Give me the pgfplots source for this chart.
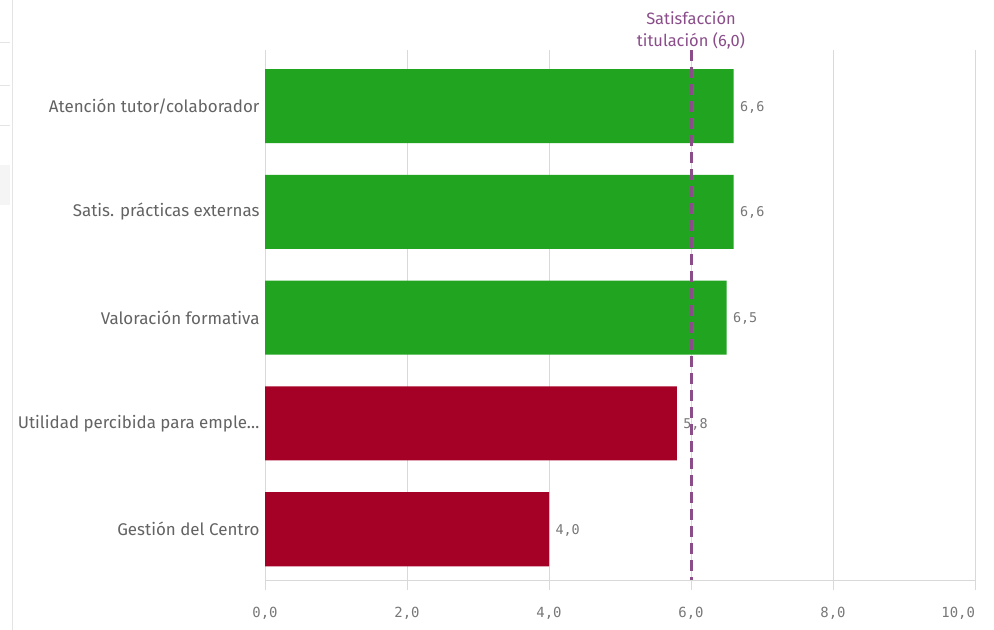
\documentclass[border=0pt]{standalone}
\usepackage{pgfplots}
\pgfplotsset{compat=1.18}
\usepackage{fontspec}
\setmainfont{Fira Sans}
\newfontfamily\monofont{DejaVu Sans Mono}
\definecolor{bargreen}{HTML}{21A521}
\definecolor{barred}{HTML}{A50026}
\definecolor{refpurple}{HTML}{8A4D8A}
\definecolor{gridgray}{HTML}{D9D9D9}
\definecolor{labgray}{HTML}{636363}
\definecolor{numgray}{HTML}{777777}
\begin{document}
\begin{tikzpicture}
\useasboundingbox (0,0) rectangle (994bp,630bp);
\fill[white] (0,0) rectangle (994bp,630bp);
\draw[gridgray!70, line width=1bp] (12bp,0) -- (12bp,630bp);
\fill[gray!8] (0,425bp) rectangle (10bp,465bp);
\foreach \yy in {588,545,505} {\draw[gridgray!70] (0,\yy bp) -- (10bp,\yy bp);}
\begin{axis}[
  at={(265bp,50bp)}, anchor=south west,
  scale only axis, width=710bp, height=530bp,
  xmin=0, xmax=10, ymin=-0.53, ymax=4.48,
  y dir=reverse,
  axis x line*=bottom, axis y line*=left,
  axis line style={gridgray, line width=1bp, -},
  xtick={0,2,4,6,8,10},
  xticklabel={\ifnum\ticknum=5\relax\makebox[0pt][r]{\monofont\pgfmathprintnumber[fixed,fixed zerofill,precision=1,use comma,assume math mode=true]{\tick}}\else\monofont\pgfmathprintnumber[fixed,fixed zerofill,precision=1,use comma,assume math mode=true]{\tick}\fi},
  xticklabel style={font=\fontsize{14}{16}\selectfont, text=numgray, yshift=-14bp},
  xtick align=outside, major tick length=10bp,
  xtick style={gridgray, line width=1bp},
  ytick={0,1,2,3,4},
  yticklabels={Atención tutor/colaborador, Satis. prácticas externas, Valoración formativa, Utilidad percibida para emple\dots, Gestión del Centro},
  yticklabel style={font=\fontsize{17}{20}\selectfont, text=labgray, xshift=-2bp},
  ytick style={draw=none},
  xmajorgrids, grid style={gridgray, line width=1bp},
  clip=false,
  point meta=x,
  nodes near coords={\monofont\pgfmathprintnumber[fixed,fixed zerofill,precision=1,use comma,assume math mode=true]{\pgfplotspointmeta}},
  nodes near coords style={font=\fontsize{13.5}{16}\selectfont, text=numgray, anchor=west, xshift=3bp, yshift=-1bp},
]
\addplot[xbar, bar shift=0pt, bar width=0.7, fill=bargreen, draw=none] coordinates {(6.6,0) (6.6,1) (6.5,2)};
\addplot[xbar, bar shift=0pt, bar width=0.7, fill=barred, draw=none] coordinates {(5.8,3) (4.0,4)};
\addplot[refpurple, line width=3bp, dash pattern=on 11bp off 6bp, no marks, nodes near coords={}] coordinates {(6,-0.53) (6,4.48)};
\node[anchor=south, align=center, text=refpurple, font=\fontsize{16.5}{22}\selectfont, inner sep=0pt, yshift=1bp] at (axis cs:6,-0.53) {Satisfacción\\titulación (6,0)};
\end{axis}
\end{tikzpicture}
\end{document}
